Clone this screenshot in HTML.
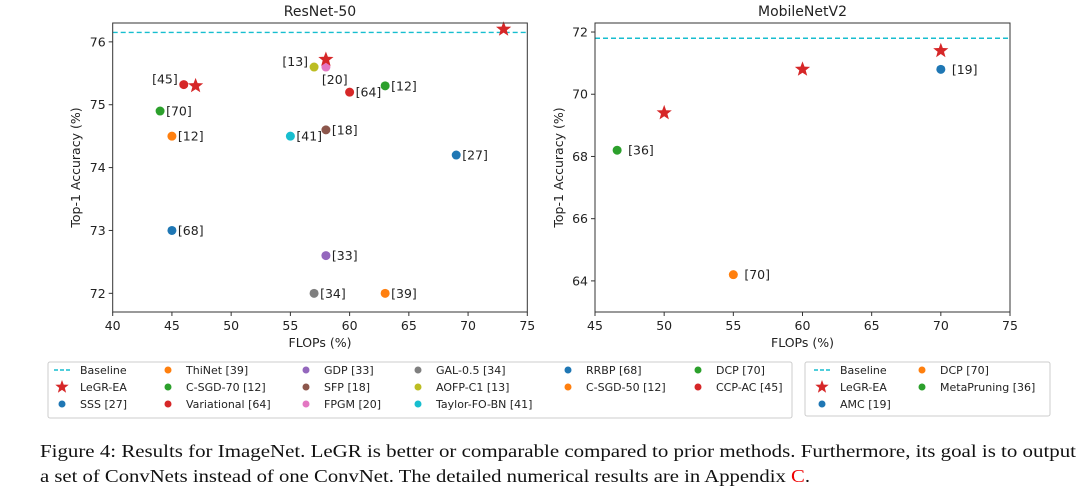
<!DOCTYPE html>
<html><head><meta charset="utf-8"><style>
body{margin:0;background:#fff;width:1092px;height:494px;overflow:hidden}
svg text{font-family:"DejaVu Sans","Liberation Sans",sans-serif;fill:#222}
.cap{font-family:"Liberation Serif",serif;font-size:18px;fill:#111}
</style></head><body>
<svg id="fig" width="1092" height="494" xmlns="http://www.w3.org/2000/svg">
<g id="left"></g>
<g id="right"></g>
<g id="legL"></g>
<g id="legR"></g>
<text class="cap" x="40" y="457" textLength="1036" lengthAdjust="spacingAndGlyphs">Figure 4: Results for ImageNet. LeGR is better or comparable compared to prior methods. Furthermore, its goal is to output</text>
<text class="cap" x="40" y="482" textLength="770" lengthAdjust="spacingAndGlyphs">a set of ConvNets instead of one ConvNet. The detailed numerical results are in Appendix <tspan style="fill:#e00">C</tspan>.</text>
</svg>
<script>
// ResNet-50 data
const rnLabels=["[45]","[70]","[12]","[13]","[20]","[64]","[12]","[18]","[41]","[27]","[68]","[33]","[34]","[39]"];
const rnX=[46,44,45,57,58,60,63,58,55,69,45,58,57,63];
const rnY=[75.32,74.9,74.5,75.6,75.6,75.2,75.3,74.6,74.5,74.2,73.0,72.6,72.0,72.0];
const rnColors=["#d62728","#2ca02c","#ff7f0e","#bcbd22","#e377c2","#d62728","#2ca02c","#8c564b","#17becf","#1f77b4","#1f77b4","#9467bd","#7f7f7f","#ff7f0e"];
const rnLabelPos=["left","right","right","left","below","right","right","right","right","right","right","right","right","right"];
const rnStarX=[47,58,73];
const rnStarY=[75.3,75.72,76.2];
const rnBaseline=76.15;
const rnXTicks=[40,45,50,55,60,65,70,75];
const rnYTicks=[72,73,74,75,76];
// MobileNetV2 data
const mbLabels=["[19]","[36]","[70]"];
const mbX=[70,46.6,55];
const mbY=[70.8,68.2,64.2];
const mbColors=["#1f77b4","#2ca02c","#ff7f0e"];
const mbStarX=[50,60,70];
const mbStarY=[69.4,70.8,71.4];
const mbBaseline=71.8;
const mbXTicks=[45,50,55,60,65,70,75];
const mbYTicks=[64,66,68,70,72];

const NS="http://www.w3.org/2000/svg";
function mk(p,t,a,txt){const e=document.createElementNS(NS,t);for(const k in a)e.setAttribute(k,a[k]);if(txt!==undefined)e.textContent=txt;p.appendChild(e);return e;}
function starPts(cx,cy,R){let s=[];for(let i=0;i<10;i++){const r=i%2?R*0.42:R;const a=-Math.PI/2+i*Math.PI/5;s.push((cx+r*Math.cos(a)).toFixed(1)+","+(cy+r*Math.sin(a)).toFixed(1));}return s.join(" ");}

function chart(g,o){
  const sx=v=>o.x0+(v-o.xmin)/(o.xmax-o.xmin)*(o.x1-o.x0);
  const sy=v=>o.y1-(v-o.ymin)/(o.ymax-o.ymin)*(o.y1-o.y0);
  let t=mk(g,"text",{x:(o.x0+o.x1)/2,y:o.y0-7,"text-anchor":"middle","font-size":"14"},o.title);
  
  
  o.xt.forEach(v=>{mk(g,"line",{x1:sx(v),x2:sx(v),y1:o.y1,y2:o.y1+4,stroke:"#333"});
    const tx=mk(g,"text",{x:sx(v),y:o.y1+18,"text-anchor":"middle","font-size":"12.5"},v);
    
    });
  o.yt.forEach(v=>{mk(g,"line",{x1:o.x0-4,x2:o.x0,y1:sy(v),y2:sy(v),stroke:"#333"});
    const tx=mk(g,"text",{x:o.x0-7,y:sy(v)+4.5,"text-anchor":"end","font-size":"12.5"},v);
    
    });
  const xa=mk(g,"text",{x:(o.x0+o.x1)/2,y:o.y1+35,"text-anchor":"middle","font-size":"12.5"},"FLOPs (%)");
  
  
  const cy=(o.y0+o.y1)/2;
  const ya=mk(g,"text",{x:o.yax,y:cy,"text-anchor":"middle","font-size":"12.5",transform:`rotate(-90 ${o.yax} ${cy})`},"Top-1 Accuracy (%)");
  
  
  const bl=mk(g,"line",{x1:o.x0,x2:o.x1,y1:sy(o.base),y2:sy(o.base),stroke:"#17becf","stroke-width":"1.4","stroke-dasharray":"5,3"});
  
  
  o.px.forEach((x,i)=>{const c=mk(g,"circle",{cx:sx(x),cy:sy(o.py[i]),r:4.5,fill:o.col[i]});
    
    
    const pos=o.pos?o.pos[i]:"right";let a={x:sx(x)+o.lgap,y:sy(o.py[i])+4.5,"font-size":"12.5"};
    if(pos==="left"){a={x:sx(x)-6,y:sy(o.py[i])-1,"font-size":"12.5","text-anchor":"end"};}
    if(pos==="below"){a={x:sx(x)-4,y:sy(o.py[i])+17,"font-size":"12.5"};}
    const l=mk(g,"text",a,o.lab[i]);
    
    });
  o.sx.forEach((x,i)=>{const s=mk(g,"polygon",{points:starPts(sx(x),sy(o.sy[i]),8),fill:"#d62728"});
    
    });
  const fr=mk(g,"rect",{x:o.x0,y:o.y0,width:o.x1-o.x0,height:o.y1-o.y0,fill:"none",stroke:"#333","stroke-width":"1"});
  
  
}
chart(document.getElementById("left"),{x0:112.7,x1:527.3,y0:23,y1:312,xmin:40,xmax:75,ymin:71.703,ymax:76.3,title:"ResNet-50",
 xt:rnXTicks,yt:rnYTicks,base:rnBaseline,px:rnX,py:rnY,col:rnColors,lab:rnLabels,pos:rnLabelPos,sx:rnStarX,sy:rnStarY,lgap:6,yax:80});
chart(document.getElementById("right"),{x0:595,x1:1010,y0:23,y1:312,xmin:45,xmax:75,ymin:63.0,ymax:72.29,title:"MobileNetV2",
 xt:mbXTicks,yt:mbYTicks,base:mbBaseline,px:mbX,py:mbY,col:mbColors,lab:mbLabels,sx:mbStarX,sy:mbStarY,lgap:11,yax:563});

// items: [label, marker, column, row]
function legend(g,x,y,w,h,items,colX,rowY){
  const b=mk(g,"rect",{x:x,y:y,width:w,height:h,fill:"#fff",stroke:"#ccc",rx:2});
  
  
  items.forEach(it=>{const mx=colX[it[2]],my=rowY[it[3]];
    let m;
    if(it[1]==="dash")m=mk(g,"line",{x1:mx-8,x2:mx+8,y1:my,y2:my,stroke:"#17becf","stroke-width":"1.4","stroke-dasharray":"4,2"});
    else if(it[1]==="star")m=mk(g,"polygon",{points:starPts(mx,my,7),fill:"#d62728"});
    else m=mk(g,"circle",{cx:mx,cy:my,r:3.5,fill:it[1]});
    
    
    const t=mk(g,"text",{x:mx+18,y:my+4,"font-size":"11"},it[0]);
    
    });
}
legend(document.getElementById("legL"),48,362,744,56,[
 ["Baseline","dash",0,0],["LeGR-EA","star",0,1],["SSS [27]","#1f77b4",0,2],
 ["ThiNet [39]","#ff7f0e",1,0],["C-SGD-70 [12]","#2ca02c",1,1],["Variational [64]","#d62728",1,2],
 ["GDP [33]","#9467bd",2,0],["SFP [18]","#8c564b",2,1],["FPGM [20]","#e377c2",2,2],
 ["GAL-0.5 [34]","#7f7f7f",3,0],["AOFP-C1 [13]","#bcbd22",3,1],["Taylor-FO-BN [41]","#17becf",3,2],
 ["RRBP [68]","#1f77b4",4,0],["C-SGD-50 [12]","#ff7f0e",4,1],
 ["DCP [70]","#2ca02c",5,0],["CCP-AC [45]","#d62728",5,1]],
 [62,168,306,418,568,698],[370,387,404]);
legend(document.getElementById("legR"),805,362,245,54,[
 ["Baseline","dash",0,0],["LeGR-EA","star",0,1],["AMC [19]","#1f77b4",0,2],
 ["DCP [70]","#ff7f0e",1,0],["MetaPruning [36]","#2ca02c",1,1]],
 [822,922],[370,387,404]);
</script>
</body></html>
